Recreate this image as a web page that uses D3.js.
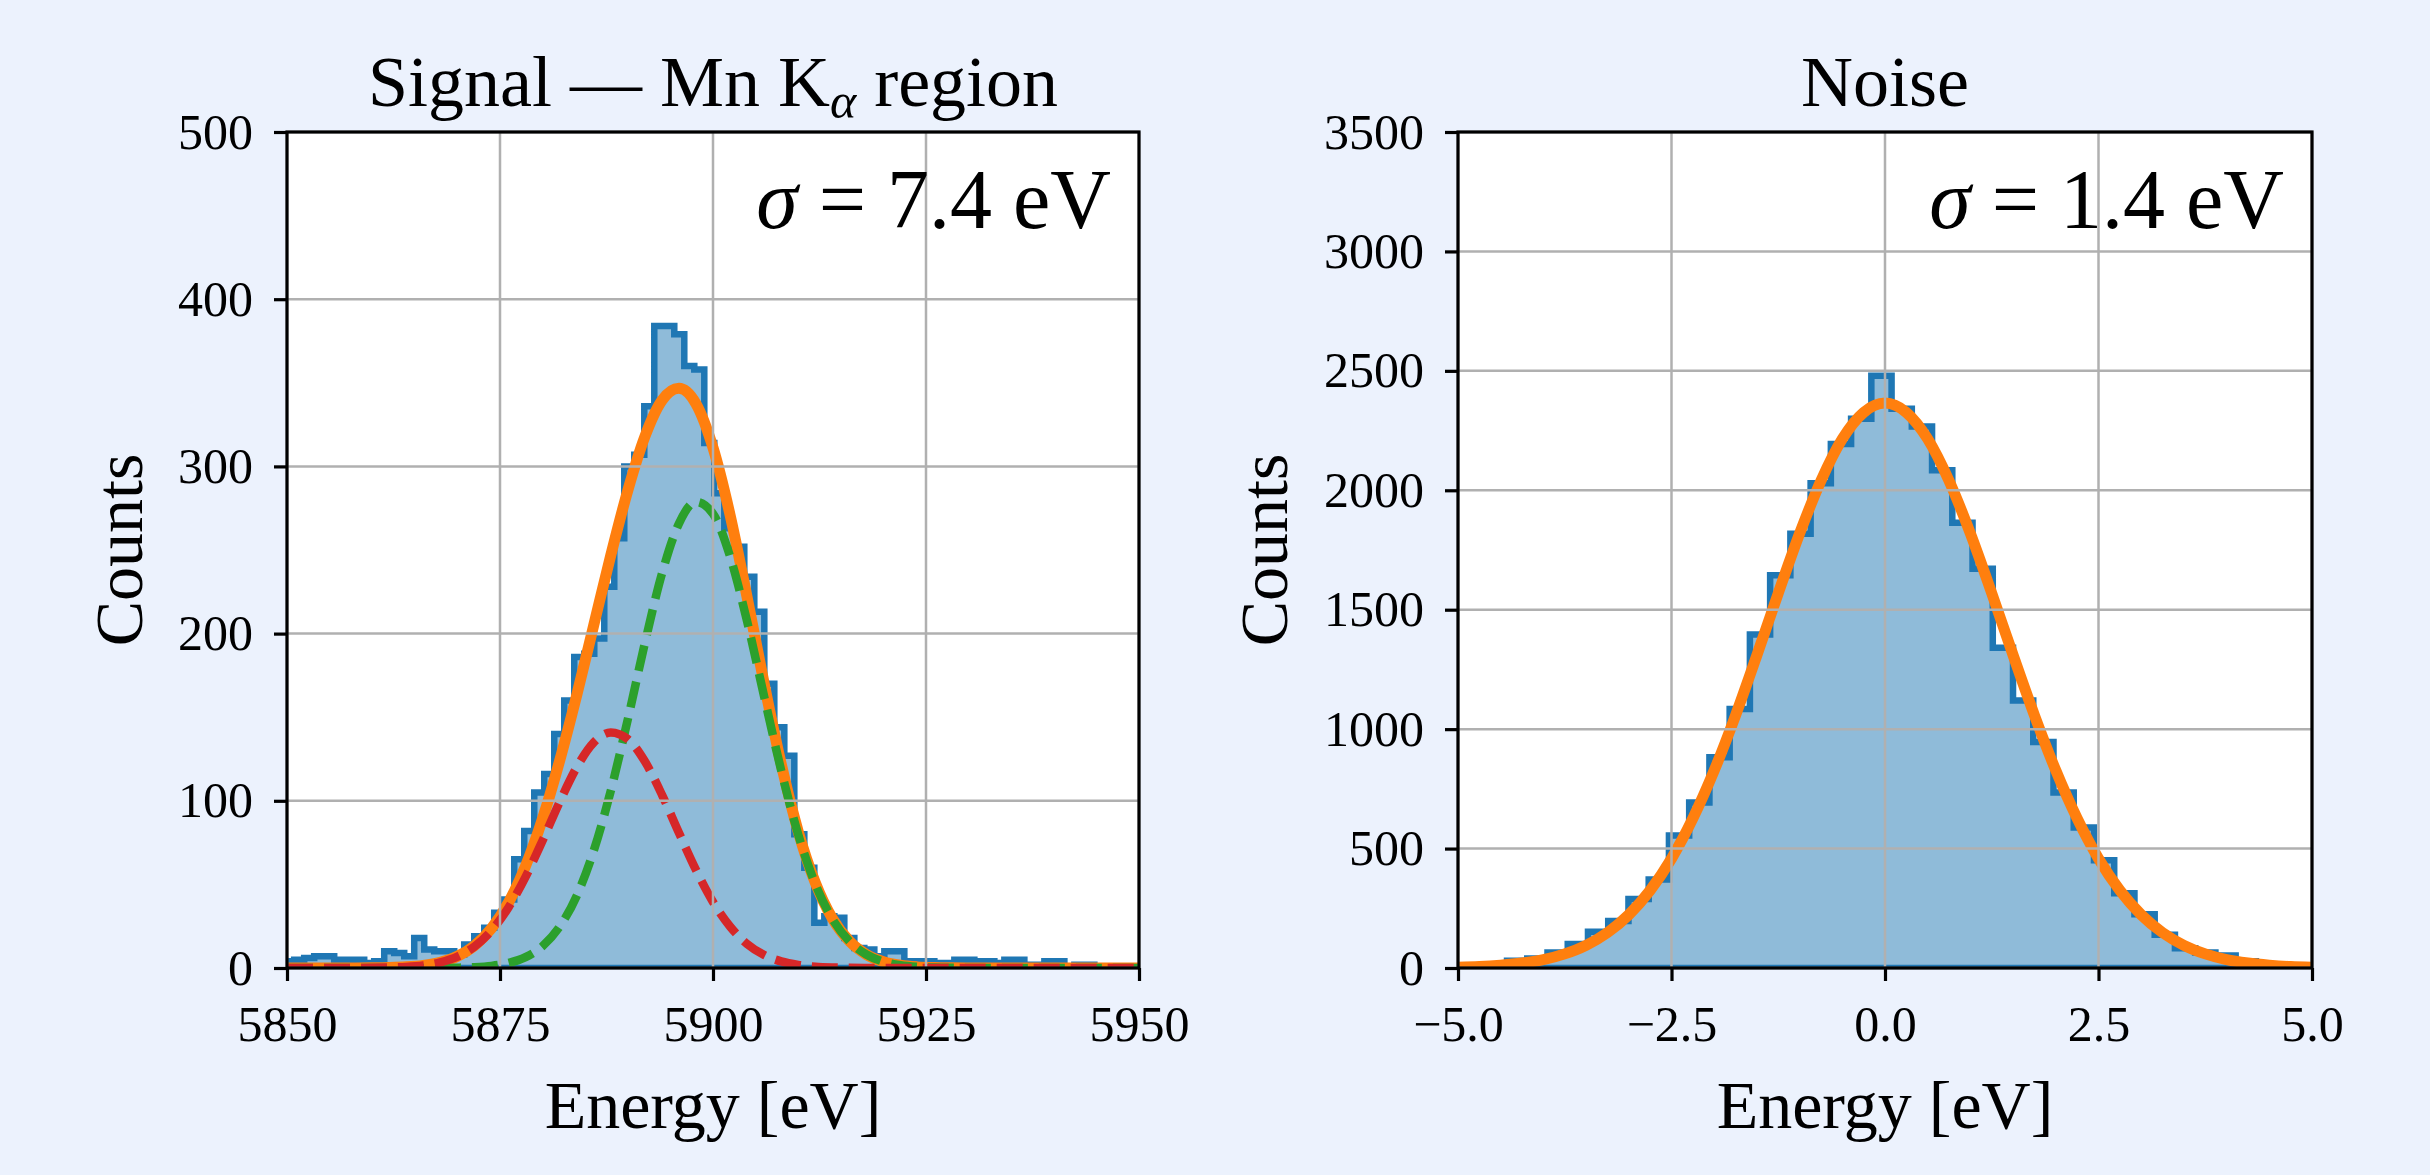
<!DOCTYPE html>
<html><head><meta charset="utf-8">
<script src="https://cdn.jsdelivr.net/npm/d3@7"></script>
<style>html,body{margin:0;padding:0;background:#ecf2fd;} svg{display:block;}</style>
</head><body>
<svg id="chart" width="2430" height="1175"></svg>
<script>
// ---------------- data ----------------
// Signal histogram (Mn K-alpha region): first bin edge, bin width [eV], counts per bin
const signalBinStart = 5849.67;
const signalBinWidth = 1.174;
const signalCounts = [
  4, 5, 6, 7, 7, 5, 5, 5, 3, 4, 10, 9, 7, 18, 11, 10, 10, 8, 14, 19, 24, 33,
  41, 65, 82, 105, 116, 140, 160, 186, 188, 197, 228, 257, 300, 307, 336, 384, 384, 379,
  360, 358, 314, 284, 263, 252, 234, 213, 170, 144, 127, 80, 60, 27, 31, 30,
  18, 12, 11, 7, 10, 10, 4, 4, 4, 3, 3, 5, 5, 4, 4, 3, 5, 5, 2, 2, 4, 4, 1, 2, 2, 1, 1, 1, 1, 1
];
// Fit curves sampled at these energies
const signalFitEnergy = [5850,5852,5854,5856,5858,5860,5862,5864,5866,5868,5870,5872,5874,5876,5878,5880,5882,5884,5886,5888,5890,5892,5894,5896,5898,5900,5902,5904,5906,5908,5910,5912,5914,5916,5918,5920,5922,5924,5926,5928,5930,5932,5934,5936,5938,5940,5942,5944,5946,5948,5950];
const signalFitTotal = [0,0,0,0.01,0.03,0.1,0.27,0.68,1.59,3.46,7.04,13.35,23.67,39.17,60.98,89.4,124.0,163.1,205.0,246.8,285.6,317.8,339.4,346.7,337.5,311.2,271.0,221.8,170.2,122.1,81.7,51.1,29.7,16.1,8.11,3.8,1.65,0.67,0.25,0.09,0.03,0.01,0,0,0,0,0,0,0,0,0];
const signalFitKa1 = [0,0,0,0,0,0,0,0.01,0.02,0.06,0.19,0.5,1.27,2.97,6.48,13.1,24.7,43.1,70.1,105.9,148.7,194.2,235.7,265.8,278.8,271.7,246.2,207.4,162.4,118.2,79.9,50.3,29.4,16.0,8.07,3.79,1.65,0.67,0.25,0.09,0.03,0.01,0,0,0,0,0,0,0,0,0];
const signalFitKa2 = [0,0,0,0.01,0.03,0.1,0.27,0.67,1.57,3.4,6.85,12.85,22.4,36.2,54.5,76.3,99.3,120.0,134.9,140.9,136.9,123.6,103.7,80.9,58.7,39.5,24.8,14.4,7.81,3.93,1.84,0.8,0.32,0.12,0.04,0.01,0,0,0,0,0,0,0,0,0,0,0,0,0,0,0];

// Noise histogram
const noiseBinStart = -5.137;
const noiseBinWidth = 0.237;
const noiseCounts = [
  5, 8, 12, 30, 40, 65, 101, 152, 197, 289, 371, 555, 693, 882, 1084, 1396, 1644, 1818, 2029, 2194, 2299,
  2479,
  2341, 2267, 2084, 1864, 1671, 1341, 1120, 946, 735, 588, 451, 313, 225, 139, 83, 65, 52, 28, 12, 6, 3
];
const noiseFitEnergy = [-5,-4.75,-4.5,-4.25,-4,-3.75,-3.5,-3.25,-3,-2.75,-2.5,-2.25,-2,-1.75,-1.5,-1.25,-1,-0.75,-0.5,-0.25,0,0.25,0.5,0.75,1,1.25,1.5,1.75,2,2.25,2.5,2.75,3,3.25,3.5,3.75,4,4.25,4.5,4.75,5];
const noiseFit = [3,6,12,21,35,59,95,148,223,325,458,626,827,1058,1310,1569,1819,2040,2215,2326,2365,2326,2215,2040,1819,1569,1310,1058,827,626,458,325,223,148,95,59,35,21,12,6,3];

// Ticks
const signalXTicks = [5850, 5875, 5900, 5925, 5950];
const signalYTicks = [0, 100, 200, 300, 400, 500];
const noiseXTicks = [-5, -2.5, 0, 2.5, 5];
const noiseYTicks = [0, 500, 1000, 1500, 2000, 2500, 3000, 3500];

// ---------------- drawing ----------------
const svg = d3.select("#chart");
const FONT = "'Liberation Serif', 'DejaVu Serif', serif";
svg.append("rect").attr("width", 2430).attr("height", 1175).attr("fill", "#ecf2fd");

const BLUE = "#1f77b4", ORANGE = "#ff7f0e", GREEN = "#2ca02c", RED = "#d62728";

function drawPanel(cfg) {
  const {x0, x1, y0, y1, id} = cfg;
  const x = d3.scaleLinear().domain(cfg.xDomain).range([x0, x1]);
  const y = d3.scaleLinear().domain(cfg.yDomain).range([y1, y0]);
  const g = svg.append("g");

  g.append("rect").attr("x", x0).attr("y", y0).attr("width", x1 - x0).attr("height", y1 - y0).attr("fill", "#ffffff");

  svg.append("defs").append("clipPath").attr("id", "clip" + id)
    .append("rect").attr("x", x0).attr("y", y0).attr("width", x1 - x0).attr("height", y1 - y0);
  const plot = g.append("g").attr("clip-path", `url(#clip${id})`);

  // histogram step path
  const pts = [[cfg.binStart, 0]];
  cfg.counts.forEach((c, i) => {
    const a = cfg.binStart + i * cfg.binWidth, b = a + cfg.binWidth;
    pts.push([a, c], [b, c]);
  });
  pts.push([cfg.binStart + cfg.counts.length * cfg.binWidth, 0]);
  const stepLine = d3.line().x(d => x(d[0])).y(d => y(d[1]));
  plot.append("path").attr("d", stepLine(pts) + "Z").attr("fill", BLUE).attr("fill-opacity", 0.5).attr("stroke", "none");
  plot.append("path").attr("d", stepLine(pts) + "Z").attr("fill", "none").attr("stroke", BLUE)
    .attr("stroke-width", 6.5).attr("stroke-linejoin", "miter");

  // grid
  const grid = g.append("g");
  cfg.xTicks.forEach(t => grid.append("line").attr("x1", x(t)).attr("x2", x(t)).attr("y1", y0).attr("y2", y1)
    .attr("stroke", "#b0b0b0").attr("stroke-width", 2.5));
  cfg.yTicks.forEach(t => grid.append("line").attr("x1", x0).attr("x2", x1).attr("y1", y(t)).attr("y2", y(t))
    .attr("stroke", "#b0b0b0").attr("stroke-width", 2.5));

  // fit curves
  const curve = d3.line().x(d => x(d[0])).y(d => y(d[1])).curve(d3.curveMonotoneX);
  cfg.fits.forEach(f => {
    plot.append("path").attr("d", curve(f.xs.map((v, i) => [v, f.ys[i]])))
      .attr("fill", "none").attr("stroke", f.color).attr("stroke-width", f.width)
      .attr("stroke-dasharray", f.dash || null).attr("stroke-linejoin", "round");
  });

  // axes
  const xAxis = g.append("g").attr("transform", `translate(0,${y1})`)
    .call(d3.axisBottom(x).tickValues(cfg.xTicks).tickFormat(cfg.xFormat).tickSize(13).tickPadding(24));
  const yAxis = g.append("g").attr("transform", `translate(${x0},0)`)
    .call(d3.axisLeft(y).tickValues(cfg.yTicks).tickFormat(d3.format("d")).tickSize(13).tickPadding(21));
  [xAxis, yAxis].forEach(a => {
    a.select(".domain").remove();
    a.selectAll(".tick line").attr("stroke", "#000").attr("stroke-width", 3.2);
    a.selectAll(".tick text").attr("fill", "#000").style("font-family", FONT).style("font-size", "50px");
  });

  // spines
  g.append("rect").attr("x", x0).attr("y", y0).attr("width", x1 - x0).attr("height", y1 - y0)
    .attr("fill", "none").attr("stroke", "#000").attr("stroke-width", 3.2);

  // title
  const title = g.append("text").attr("x", (x0 + x1) / 2).attr("y", 106).attr("text-anchor", "middle")
    .style("font-family", FONT).style("font-size", "72px").attr("fill", "#000");
  cfg.title(title);

  // annotation
  const ann = g.append("text").attr("x", x1 - 28).attr("y", 228).attr("text-anchor", "end")
    .style("font-family", FONT).style("font-size", "84px").attr("fill", "#000");
  ann.append("tspan").style("font-style", "italic").text("σ");
  ann.append("tspan").text(" = " + cfg.sigma + " eV");

  // axis labels
  g.append("text").attr("x", (x0 + x1) / 2).attr("y", 1128).attr("text-anchor", "middle")
    .style("font-family", FONT).style("font-size", "68px").attr("fill", "#000").text("Energy [eV]");
  g.append("text").attr("transform", `translate(${cfg.ylabelX},${(y0 + y1) / 2}) rotate(-90)`)
    .attr("text-anchor", "middle").style("font-family", FONT).style("font-size", "68px").attr("fill", "#000").text("Counts");
}

drawPanel({
  id: "L", x0: 287, x1: 1139, y0: 132, y1: 968,
  xDomain: [5850, 5950], yDomain: [0, 500],
  binStart: signalBinStart, binWidth: signalBinWidth, counts: signalCounts,
  xTicks: signalXTicks, yTicks: signalYTicks, xFormat: d3.format("d"),
  fits: [
    {xs: signalFitEnergy, ys: signalFitTotal, color: ORANGE, width: 11},
    {xs: signalFitEnergy, ys: signalFitKa1, color: GREEN, width: 8.5, dash: "26,11"},
    {xs: signalFitEnergy, ys: signalFitKa2, color: RED, width: 8.5, dash: "26,11"}
  ],
  sigma: "7.4", ylabelX: 142,
  title: t => {
    t.append("tspan").text("Signal — Mn K");
    t.append("tspan").attr("dy", 12).style("font-size", "50px").style("font-style", "italic").text("α");
    t.append("tspan").attr("dy", -12).text(" region");
  }
});

drawPanel({
  id: "R", x0: 1458, x1: 2312, y0: 132, y1: 968,
  xDomain: [-5, 5], yDomain: [0, 3500],
  binStart: noiseBinStart, binWidth: noiseBinWidth, counts: noiseCounts,
  xTicks: noiseXTicks, yTicks: noiseYTicks, xFormat: d3.format(".1f"),
  fits: [
    {xs: noiseFitEnergy, ys: noiseFit, color: ORANGE, width: 11}
  ],
  sigma: "1.4", ylabelX: 1287,
  title: t => t.text("Noise")
});
</script>
</body></html>
